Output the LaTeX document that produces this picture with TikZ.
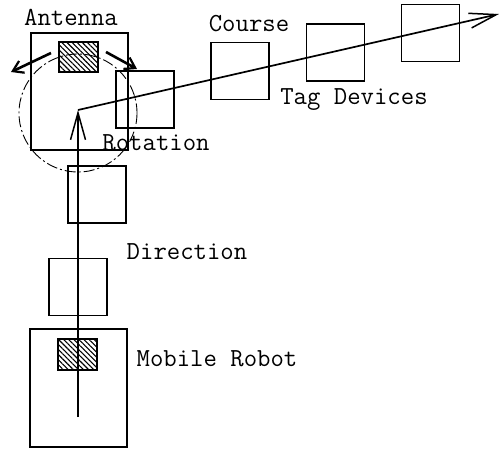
\documentclass[tikz,border=0pt]{standalone}
\usetikzlibrary{arrows.meta,patterns.meta}

\begin{document}
\begin{tikzpicture}[x=1pt,y=-1pt,
    every node/.style={font=\fontsize{26}{28}\selectfont\ttfamily, inner sep=0pt},
    tagbox/.style={draw, line width=1.5pt, minimum width=58pt, minimum height=57pt},
    bigbox/.style={draw, line width=1.5pt, minimum width=97pt, minimum height=117pt},
    hatchbox/.style={draw, line width=1.3pt, minimum width=39pt, minimum height=30pt,
      pattern={Lines[angle=-45,distance=3.6pt,line width=1.1pt]}},
    course/.style={line width=1.7pt, -{Straight Barb[length=27pt,width=15pt,line width=1.5pt]}},
    turn/.style={line width=2.6pt, -{Straight Barb[length=10pt,width=13pt,line width=2.2pt]}}]
  \useasboundingbox (0,0) rectangle (501,449);
  % antenna on the robot
  \node[bigbox] (antbox) at (79.5,91.5) {};
  \node[hatchbox] (anthatch) at (78.5,57) {};
  \draw[line width=0.9pt, dash pattern=on 11pt off 3pt on 2pt off 3pt] (78,113) circle (59);
  \coordinate (turnlA) at (51,53);  \coordinate (turnlB) at (11,72);
  \coordinate (turnrA) at (106,52); \coordinate (turnrB) at (137,69);
  \draw[turn] (turnlA) -- (turnlB);
  \draw[turn] (turnrA) -- (turnrB);
  % tag devices along the course
  \node[tagbox] (tagA) at (145,99.5) {};
  \node[tagbox] (tagB) at (240,71) {};
  \node[tagbox] (tagC) at (335.5,52.5) {};
  \node[tagbox] (tagD) at (430.5,33) {};
  \node[tagbox] (tagE) at (97,194.5) {};
  \node[tagbox] (tagF) at (78,287) {};
  % mobile robot
  \node[bigbox, minimum height=118pt] (robot) at (78.5,388) {};
  \node[hatchbox, minimum height=31pt] (robothatch) at (77.5,354.5) {};
  \coordinate (start) at (78,417);
  \coordinate (pivot) at (78,110);
  \coordinate (goal) at (499,14);
  \draw[course, line width=1.4pt] (start) -- (pivot);
  \draw[course] (pivot) -- (goal);
  % labels
  \node (antenna) at (71,17) {Antenna};
  \node (rotation) at (156,143) {Rotation};
  \node (coursetext) at (249,24) {Course};
  \node (tagtext) at (354,100) {Tag Devices};
  \node (direction) at (187,252) {Direction};
  \node (robottext) at (217,359) {Mobile Robot};
\end{tikzpicture}
\end{document}
